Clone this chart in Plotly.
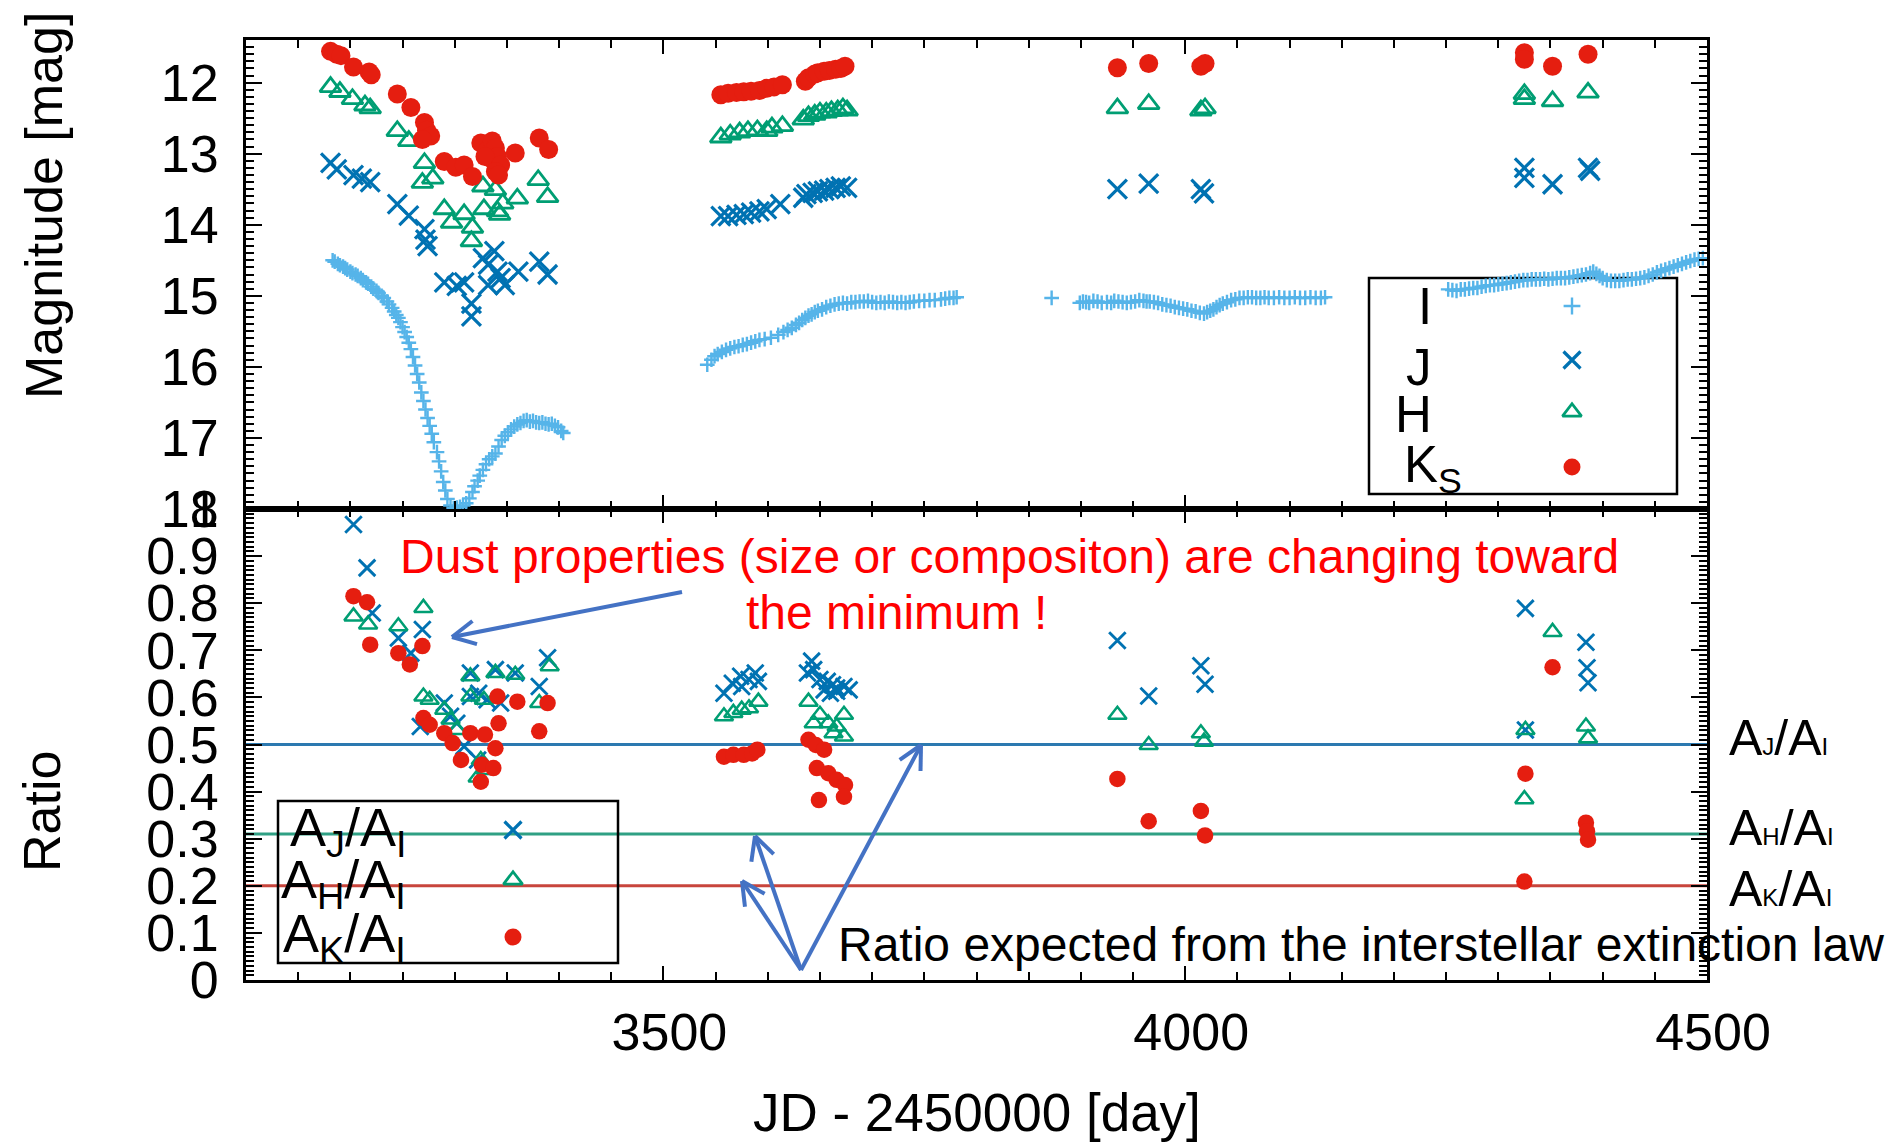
import math
import plotly.graph_objects as go

W, H = 1898, 1142
FONT = "Liberation Sans, Arial, Helvetica, sans-serif"

# ---------------- data ----------------
# I-band light curve: JD - 2450000, magnitude
i_jd = [3183, 3185, 3188, 3190, 3193, 3195, 3197, 3200, 3202, 3205, 3207, 3210, 3212, 3215, 3217, 3220,
        3222, 3225, 3227, 3230, 3232, 3235, 3237, 3240, 3242, 3244, 3246, 3248, 3250, 3252, 3254, 3256,
        3258, 3260, 3262, 3264, 3266, 3268, 3270, 3272, 3274, 3276, 3278, 3280, 3283, 3285, 3287, 3289,
        3291, 3293, 3296, 3299, 3302, 3305, 3308, 3311, 3314, 3317, 3319, 3322, 3324, 3327, 3330, 3333,
        3336, 3339, 3342, 3345, 3348, 3351, 3354, 3357, 3360, 3363, 3366, 3369, 3372, 3375, 3378, 3381,
        3384, 3387, 3390, 3393, 3396, 3399, 3402, 3404,
        3542, 3546, 3549, 3552, 3556, 3560, 3564, 3568, 3572, 3576, 3580, 3584, 3588, 3592, 3597, 3603,
        3610, 3615, 3619, 3623, 3627, 3630, 3633, 3636, 3639, 3642, 3645, 3648, 3652, 3656, 3660, 3664,
        3668, 3672, 3676, 3680, 3684, 3688, 3692, 3696, 3700, 3704, 3708, 3712, 3716, 3720, 3724, 3728,
        3732, 3736, 3740, 3745, 3750, 3755, 3760, 3766, 3770, 3774, 3778, 3781,
        3872, 3899, 3902, 3905, 3908, 3912, 3916, 3920, 3925, 3929, 3932, 3936, 3940, 3944, 3948, 3952,
        3956, 3960, 3963, 3966, 3970, 3974, 3978, 3982, 3986, 3990, 3994, 3998, 4002, 4006, 4010, 4014,
        4018, 4021, 4024, 4027, 4030, 4033, 4036, 4040, 4044, 4048, 4052, 4056, 4060, 4064, 4068, 4072,
        4076, 4080, 4085, 4090, 4095, 4100, 4105, 4110, 4115, 4120, 4125, 4130, 4134,
        4252, 4256, 4260, 4264, 4268, 4272, 4276, 4280, 4284, 4288, 4292, 4296, 4300, 4304, 4308, 4312,
        4316, 4320, 4324, 4328, 4332, 4336, 4340, 4344, 4348, 4352, 4356, 4360, 4364, 4368, 4372, 4376,
        4380, 4384, 4388, 4391, 4394, 4397, 4400, 4404, 4408, 4412, 4416, 4420, 4424, 4428, 4432, 4436,
        4440, 4444, 4448, 4452, 4456, 4460, 4464, 4468, 4472, 4476, 4480, 4484, 4488, 4492, 4496]
i_mag = [14.50, 14.52, 14.55, 14.57, 14.59, 14.61, 14.63, 14.66, 14.68, 14.70, 14.72, 14.75, 14.78, 14.81, 14.83, 14.87,
         14.90, 14.93, 14.96, 15.00, 15.03, 15.08, 15.12, 15.17, 15.22, 15.27, 15.31, 15.37, 15.44, 15.51, 15.58, 15.66,
         15.75, 15.86, 15.98, 16.10, 16.22, 16.36, 16.48, 16.60, 16.72, 16.83, 16.94, 17.06, 17.20, 17.33, 17.47, 17.62,
         17.74, 17.86, 17.95, 17.99, 17.98, 17.97, 17.95, 17.92, 17.85, 17.76, 17.68, 17.60, 17.53, 17.45, 17.37, 17.30,
         17.26, 17.22, 17.12, 17.03, 16.97, 16.92, 16.88, 16.84, 16.81, 16.79, 16.76, 16.75, 16.77, 16.76, 16.78, 16.79,
         16.78, 16.80, 16.81, 16.80, 16.83, 16.85, 16.90, 16.93,
         15.97, 15.90, 15.85, 15.82, 15.79, 15.76, 15.74, 15.72, 15.71, 15.69, 15.68, 15.66, 15.64, 15.62, 15.61, 15.59,
         15.55, 15.51, 15.48, 15.45, 15.41, 15.38, 15.34, 15.31, 15.28, 15.26, 15.23, 15.21, 15.19, 15.16, 15.14, 15.12,
         15.11, 15.10, 15.11, 15.09, 15.09, 15.08, 15.08, 15.07, 15.09, 15.10, 15.09, 15.10, 15.08, 15.09, 15.10, 15.09,
         15.10, 15.09, 15.08, 15.07, 15.07, 15.06, 15.06, 15.05, 15.04, 15.03, 15.03, 15.02,
         15.03, 15.10, 15.08, 15.09, 15.10, 15.07, 15.08, 15.10, 15.09, 15.10, 15.07, 15.08, 15.09, 15.10, 15.09, 15.08,
         15.06, 15.07, 15.08, 15.08, 15.09, 15.10, 15.12, 15.13, 15.14, 15.16, 15.17, 15.18, 15.19, 15.21, 15.22, 15.24,
         15.25, 15.23, 15.21, 15.19, 15.16, 15.13, 15.11, 15.09, 15.06, 15.05, 15.03, 15.03, 15.02, 15.02, 15.03, 15.03,
         15.02, 15.03, 15.03, 15.02, 15.03, 15.03, 15.02, 15.03, 15.03, 15.02, 15.03, 15.03, 15.02,
         14.91, 14.92, 14.93, 14.91, 14.91, 14.90, 14.89, 14.89, 14.87, 14.86, 14.85, 14.85, 14.84, 14.83, 14.82, 14.81,
         14.80, 14.79, 14.78, 14.78, 14.77, 14.77, 14.77, 14.76, 14.77, 14.76, 14.75, 14.75, 14.75, 14.74, 14.73, 14.72,
         14.71, 14.70, 14.68, 14.66, 14.69, 14.72, 14.75, 14.78, 14.79, 14.79, 14.79, 14.78, 14.77, 14.77, 14.76, 14.75,
         14.74, 14.72, 14.70, 14.67, 14.65, 14.63, 14.61, 14.59, 14.57, 14.55, 14.53, 14.51, 14.49, 14.48, 14.47]

# J band
j_jd = [3181, 3187, 3203, 3211, 3219, 3245, 3256, 3271, 3272, 3274, 3290, 3302, 3309, 3316, 3316,
        3327, 3338, 3332, 3341, 3344, 3332, 3348, 3361, 3381, 3389,
        3555, 3562, 3570, 3577, 3584, 3592, 3599, 3612, 3634, 3637, 3643, 3648, 3654, 3659, 3665, 3670, 3676,
        3935, 3965, 4015, 4018, 4325, 4325, 4352, 4386, 4388]
j_mag = [13.13, 13.22, 13.30, 13.35, 13.40, 13.71, 13.87, 14.06, 14.21, 14.30, 14.81, 14.86, 14.81, 15.11, 15.29,
         14.47, 14.37, 14.56, 14.66, 14.75, 14.85, 14.85, 14.66, 14.52, 14.70,
         13.88, 13.88, 13.86, 13.85, 13.83, 13.81, 13.78, 13.71, 13.62, 13.57, 13.55, 13.53, 13.52, 13.50, 13.48, 13.46, 13.48,
         13.50, 13.42, 13.50, 13.56, 13.20, 13.34, 13.43, 13.20, 13.24]

# H band
h_jd = [3181, 3190, 3202, 3214, 3219, 3245, 3256, 3271, 3279, 3269, 3290, 3297, 3309, 3317, 3316,
        3327, 3339, 3328, 3341, 3346, 3343, 3360, 3380, 3389,
        3555, 3564, 3573, 3581, 3590, 3599, 3604, 3614, 3634, 3639, 3645, 3650, 3656, 3661, 3667, 3672, 3676,
        3935, 3965, 4015, 4019, 4325, 4325, 4352, 4386]
h_mag = [12.06, 12.13, 12.23, 12.32, 12.36, 12.68, 12.82, 13.13, 13.35, 13.41, 13.78, 13.97, 13.85, 14.04, 14.23,
         13.46, 13.51, 13.78, 13.81, 13.70, 13.86, 13.63, 13.37, 13.61,
         12.77, 12.73, 12.70, 12.68, 12.67, 12.68, 12.63, 12.61, 12.52, 12.47, 12.45, 12.42, 12.42, 12.40, 12.39, 12.36, 12.39,
         12.36, 12.30, 12.39, 12.36, 12.16, 12.23, 12.26, 12.14]

# Ks band
k_jd = [3181, 3187, 3191, 3203, 3218, 3220, 3245, 3258, 3271, 3273, 3277, 3269, 3290, 3301, 3309, 3317,
        3325, 3332, 3336, 3339, 3334, 3341, 3329, 3344, 3339, 3342, 3358, 3381, 3390,
        3555, 3562, 3570, 3577, 3584, 3592, 3599, 3606, 3614, 3636, 3639, 3645, 3648, 3654, 3659, 3665, 3670, 3674,
        3935, 3965, 4015, 4019, 4325, 4325, 4352, 4386]
k_mag = [11.56, 11.60, 11.62, 11.78, 11.85, 11.89, 12.16, 12.35, 12.56, 12.67, 12.75, 12.80, 13.11, 13.19, 13.16, 13.32,
         12.85, 12.94, 12.82, 12.92, 13.06, 13.04, 13.04, 13.16, 13.25, 13.30, 12.99, 12.78, 12.94,
         12.17, 12.15, 12.14, 12.13, 12.12, 12.11, 12.08, 12.06, 12.03, 11.98, 11.93, 11.88, 11.86, 11.84, 11.83, 11.81, 11.80, 11.77,
         11.79, 11.73, 11.77, 11.73, 11.58, 11.67, 11.77, 11.60]

# extinction ratios A_J/A_I, A_H/A_I, A_K/A_I
rj_jd = [3203, 3216, 3221, 3246, 3269, 3258, 3315, 3339, 3358, 3389, 3381, 3315, 3323, 3331,
         3267, 3290, 3296, 3302, 3309, 3322, 3344,
         3558, 3566, 3574, 3582, 3588, 3591, 3575, 3642, 3638, 3644, 3650, 3657, 3662, 3666, 3673, 3678, 3654, 3660, 3666,
         3935, 3965, 4015, 4019, 4326, 4384, 4385, 4386, 4326]
rj = [0.967, 0.875, 0.779, 0.726, 0.744, 0.694, 0.652, 0.659, 0.652, 0.684, 0.623, 0.602, 0.609, 0.595,
      0.538, 0.588, 0.560, 0.545, 0.496, 0.467, 0.588,
      0.609, 0.630, 0.645, 0.638, 0.652, 0.634, 0.623, 0.677, 0.652, 0.659, 0.638, 0.634, 0.627, 0.620, 0.623, 0.616, 0.616, 0.609, 0.613,
      0.721, 0.603, 0.667, 0.628, 0.789, 0.717, 0.663, 0.631, 0.531]

rh_jd = [3203, 3217, 3246, 3270, 3315, 3339, 3358, 3391, 3381, 3315, 3328, 3270, 3276, 3290, 3296, 3302, 3325, 3330, 3322,
         3558, 3567, 3575, 3582, 3591, 3639, 3650, 3658, 3666, 3673, 3673, 3644, 3663,
         3935, 3965, 4015, 4018, 4352, 4326, 4325, 4384, 4386]
rh = [0.772, 0.755, 0.751, 0.790, 0.645, 0.652, 0.648, 0.666, 0.588, 0.602, 0.595, 0.602, 0.595, 0.574, 0.553, 0.531, 0.467, 0.446, 0.430,
      0.560, 0.567, 0.574, 0.577, 0.591, 0.591, 0.563, 0.545, 0.538, 0.563, 0.517, 0.545, 0.524,
      0.563, 0.499, 0.524, 0.506, 0.739, 0.531, 0.384, 0.538, 0.513]

rk_jd = [3203, 3216, 3219, 3246, 3257, 3269, 3270, 3276, 3290, 3298, 3306, 3315, 3329, 3326, 3337, 3339, 3342, 3341,
         3325, 3360, 3381, 3389,
         3558, 3567, 3577, 3585, 3590, 3639, 3646, 3654, 3647, 3658, 3666, 3674, 3673, 3649,
         3935, 3965, 4015, 4019, 4352, 4326, 4325, 4384, 4385, 4386]
rk = [0.815, 0.802, 0.712, 0.694, 0.670, 0.709, 0.556, 0.542, 0.524, 0.503, 0.467, 0.524, 0.521, 0.457, 0.450, 0.492, 0.545, 0.602,
      0.421, 0.591, 0.528, 0.588,
      0.474, 0.478, 0.478, 0.481, 0.489, 0.510, 0.499, 0.489, 0.450, 0.439, 0.425, 0.414, 0.389, 0.382,
      0.427, 0.337, 0.359, 0.307, 0.664, 0.438, 0.209, 0.334, 0.316, 0.298]

# ratios expected from the interstellar extinction law
ism_names = ["A<span style='font-size:24px'>J</span>/A<span style='font-size:24px'>I</span>",
             "A<span style='font-size:24px'>H</span>/A<span style='font-size:24px'>I</span>",
             "A<span style='font-size:24px'>K</span>/A<span style='font-size:24px'>I</span>"]
ism_ratio = [0.5, 0.31, 0.2]

# axes
jd_range = [3100, 4500]
jd_ticks = [3500, 4000, 4500]
mag_range = [18, 11.4]
mag_ticks = [12, 13, 14, 15, 16, 17, 18]
ratio_ticks = [0, 0.1, 0.2, 0.3, 0.4, 0.5, 0.6, 0.7, 0.8, 0.9, 1.0]
ratio_text = ["0", "0.1", "0.2", "0.3", "0.4", "0.5", "0.6", "0.7", "0.8", "0.9", "1"]

# colours
C_I, C_J, C_H, C_K = "#56B4E9", "#0072B2", "#009E73", "#E51E10"
LINE_COLORS = ["#2C79B0", "#2FA084", "#C8453C"]
ARROW = "#4472C4"

# ---------------- page geometry (pixels) ----------------
X0, X1 = 246, 1707
Y_TOP, Y_MID, Y_BOT = 40, 509, 980


def fx(px):
    return px / W


def fy(py):
    return 1 - py / H


def mk(symbol, size, color, lw):
    return dict(symbol=symbol, size=size, color=color, line=dict(color=color, width=lw))


SYM = {
    "I": ("cross-thin-open", 10.5, C_I, 2.4),
    "J": ("x-thin-open", 19, C_J, 3.2),
    "H": ("triangle-up-open", 18.5, C_H, 2.8),
    "K": ("circle", 19, C_K, 0),
}

fig = go.Figure()

# light curves (upper panel)
for name, xs, ys, key in [("I", i_jd, i_mag, "I"), ("J", j_jd, j_mag, "J"),
                          ("H", h_jd, h_mag, "H"), ("Ks", k_jd, k_mag, "K")]:
    fig.add_trace(go.Scatter(x=xs, y=ys, mode="markers", name=name, marker=mk(*SYM[key]),
                             xaxis="x2", yaxis="y2", showlegend=False))

# extinction ratios (lower panel)
for name, xs, ys, key in [("AJ/AI", rj_jd, rj, "J"), ("AH/AI", rh_jd, rh, "H"), ("AK/AI", rk_jd, rk, "K")]:
    s = SYM[key]
    fig.add_trace(go.Scatter(x=xs, y=ys, mode="markers", name=name,
                             marker=mk(s[0], s[1] - 2.5, s[2], s[3] * 0.9),
                             xaxis="x", yaxis="y", showlegend=False))

# legend keys, drawn on a page-pixel overlay axis
key_x = [1572, 1572, 1572, 1572, 513, 513, 513]
key_y = [306, 360, 412, 467, 830, 880, 937]
key_sym = ["I", "J", "H", "K", "J", "H", "K"]
for kx, ky, ks in zip(key_x, key_y, key_sym):
    s = SYM[ks]
    size = 12 if ks == "I" else s[1] - 2
    fig.add_trace(go.Scatter(x=[kx], y=[ky], mode="markers", marker=mk(s[0], size, s[2], s[3]),
                             xaxis="x3", yaxis="y3", showlegend=False, hoverinfo="skip"))

shapes = []
# expected-ratio lines
for v, c in zip(ism_ratio, LINE_COLORS):
    shapes.append(dict(type="line", xref="x domain", yref="y", x0=0, x1=1, y0=v, y1=v,
                       line=dict(color=c, width=3), layer="below"))

# legend frames
for (a, b, c, d) in [(1369, 278, 1677, 494), (278, 801, 618, 963)]:
    shapes.append(dict(type="rect", xref="paper", yref="paper", x0=fx(a), x1=fx(c), y0=fy(d), y1=fy(b),
                       line=dict(color="black", width=2.5), layer="below"))


def arrow(tail, head, barb=26, ang=27):
    (x0, y0), (x1, y1) = tail, head
    out = [dict(type="line", xref="paper", yref="paper", x0=fx(x0), y0=fy(y0), x1=fx(x1), y1=fy(y1),
                line=dict(color=ARROW, width=4))]
    a = math.atan2(y0 - y1, x0 - x1)
    for sgn in (-1, 1):
        b = a + sgn * math.radians(ang)
        bx, by = x1 + barb * math.cos(b), y1 + barb * math.sin(b)
        out.append(dict(type="line", xref="paper", yref="paper", x0=fx(x1), y0=fy(y1), x1=fx(bx), y1=fy(by),
                        line=dict(color=ARROW, width=4)))
    return out


shapes += arrow((682, 592), (452, 637))
origin = (801, 970)
for head in [(755, 836), (742, 881), (921, 745)]:
    shapes += arrow(origin, head)


def txt(x, y, text, size, color="black", xanchor="left", angle=0):
    return dict(x=fx(x), y=fy(y), xref="paper", yref="paper", text=text, showarrow=False,
                xanchor=xanchor, yanchor="middle", textangle=angle,
                font=dict(family=FONT, size=size, color=color))


annotations = [
    txt(398, 556, "Dust properties (size or compositon) are changing toward", 48, "#FF0000"),
    txt(744, 612, "the minimum !", 48, "#FF0000"),
    txt(836, 944, "Ratio expected from the interstellar extinction law", 48),
    # axis titles
    txt(44, 206, "Magnitude [mag]", 52, xanchor="center", angle=-90),
    txt(42, 812, "Ratio", 52, xanchor="center", angle=-90),
    txt(977, 1112, "JD - 2450000 [day]", 53, xanchor="center"),
    # upper legend labels
    txt(1434, 306, "I", 51, xanchor="right"),
    txt(1434, 367, "J", 51, xanchor="right"),
    txt(1434, 414, "H", 51, xanchor="right"),
    txt(1464, 468, "K<sub>S</sub>", 51, xanchor="right"),
    # lower legend labels
    txt(408, 831, "A<sub>J</sub>/A<sub>I</sub>", 54, xanchor="right"),
    txt(408, 883, "A<sub>H</sub>/A<sub>I</sub>", 54, xanchor="right"),
    txt(408, 937, "A<sub>K</sub>/A<sub>I</sub>", 54, xanchor="right"),
]
# labels of the expected-ratio lines, right of the frame
for name, yy in zip(ism_names, [738, 828, 889]):
    annotations.append(txt(1727, yy, name, 50))

axis_common = dict(showline=True, linecolor="black", linewidth=3, mirror="ticks", ticks="inside",
                   tickcolor="black", tickwidth=2, showgrid=False, zeroline=False, automargin=False,
                   tickfont=dict(family=FONT, size=52, color="black"))

fig.update_layout(
    width=W, height=H, margin=dict(l=0, r=0, t=0, b=0, pad=0),
    paper_bgcolor="white", plot_bgcolor="rgba(0,0,0,0)",
    font=dict(family=FONT, color="black"),
    xaxis=dict(domain=[fx(X0), fx(X1)], anchor="y", range=jd_range, tickmode="array", tickvals=jd_ticks,
               ticklen=14, ticklabelstandoff=5, ticklabelshift=6,
               minor=dict(tickmode="linear", tick0=3100, dtick=50, ticklen=8, ticks="inside",
                          tickwidth=2, tickcolor="black"),
               **axis_common),
    yaxis=dict(domain=[fy(Y_BOT), fy(Y_MID)], anchor="x", range=[0, 1], tickmode="array",
               tickvals=ratio_ticks, ticktext=ratio_text, ticklen=16, ticklabelstandoff=14,
               minor=dict(tickmode="linear", tick0=0, dtick=0.01, ticklen=8, ticks="inside",
                          tickwidth=1.5, tickcolor="black"),
               **axis_common),
    xaxis2=dict(domain=[fx(X0), fx(X1)], anchor="y2", range=jd_range, matches="x", tickmode="array",
                tickvals=jd_ticks, ticklen=14, showticklabels=False,
                minor=dict(tickmode="linear", tick0=3100, dtick=50, ticklen=8, ticks="inside",
                           tickwidth=2, tickcolor="black"),
                **axis_common),
    yaxis2=dict(domain=[fy(Y_MID), fy(Y_TOP)], anchor="x2", range=mag_range, tickmode="array",
                tickvals=mag_ticks, ticklen=16, ticklabelstandoff=14,
                minor=dict(tickmode="linear", tick0=12, dtick=0.1, ticklen=8, ticks="inside",
                           tickwidth=1.5, tickcolor="black"),
                **axis_common),
    xaxis3=dict(domain=[0, 1], anchor="y3", range=[0, W], visible=False, fixedrange=True),
    yaxis3=dict(domain=[0, 1], anchor="x3", range=[H, 0], visible=False, fixedrange=True),
    shapes=shapes,
    annotations=annotations,
)

fig.write_html("out.html")
